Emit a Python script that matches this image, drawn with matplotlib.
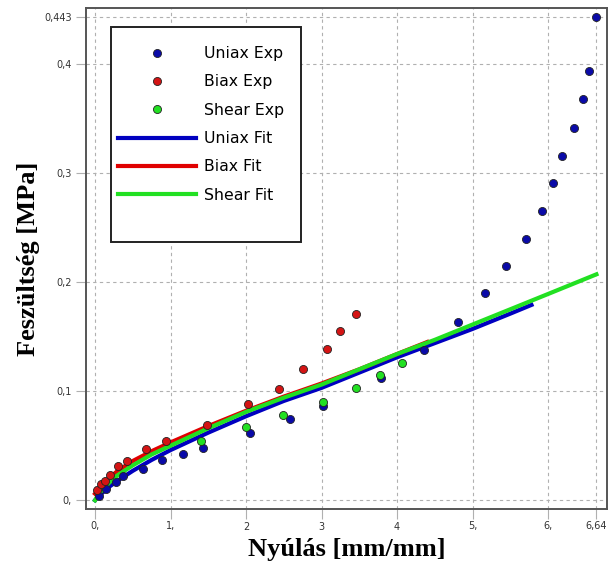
import matplotlib.pyplot as plt
from matplotlib.lines import Line2D
from matplotlib.patches import Rectangle

# experimental points (strain, stress)
uniax_x = [0.05, 0.15, 0.28, 0.37, 0.63, 0.89, 1.16, 1.43, 2.05, 2.58, 3.02, 3.79,
           4.36, 4.81, 5.17, 5.44, 5.71, 5.92, 6.07, 6.19, 6.34, 6.46, 6.54, 6.64]
uniax_y = [0.004, 0.010, 0.017, 0.022, 0.029, 0.037, 0.042, 0.048, 0.062, 0.074, 0.086, 0.112,
           0.138, 0.163, 0.190, 0.215, 0.239, 0.265, 0.291, 0.315, 0.341, 0.368, 0.393, 0.443]

biax_x = [0.02, 0.08, 0.13, 0.20, 0.31, 0.42, 0.67, 0.94, 1.48, 2.02, 2.43, 2.75, 3.07, 3.25, 3.45]
biax_y = [0.009, 0.015, 0.018, 0.023, 0.031, 0.036, 0.047, 0.054, 0.069, 0.088, 0.102, 0.120, 0.139, 0.155, 0.171]

shear_x = [1.40, 2.00, 2.49, 3.02, 3.45, 3.77, 4.06]
shear_y = [0.054, 0.067, 0.078, 0.090, 0.103, 0.115, 0.126]

# fitted curves
uniax_fit_x = [0, 0.05, 0.1, 0.2, 0.3, 0.5, 0.75, 1, 1.5, 2, 2.5, 3, 3.5, 4, 4.5, 5, 5.5, 5.78]
uniax_fit_y = [0.0, 0.004, 0.007, 0.013, 0.018, 0.027, 0.037, 0.046, 0.062, 0.077, 0.091, 0.103,
               0.117, 0.131, 0.144, 0.157, 0.171, 0.179]

biax_fit_x = [0, 0.05, 0.1, 0.2, 0.3, 0.5, 0.75, 1, 1.5, 2, 2.5, 3, 3.5, 4, 4.4]
biax_fit_y = [0.006, 0.010, 0.014, 0.021, 0.027, 0.036, 0.045, 0.053, 0.068, 0.082, 0.095, 0.107,
              0.120, 0.134, 0.145]

shear_fit_x = [0, 0.05, 0.1, 0.2, 0.3, 0.5, 0.75, 1, 1.5, 2, 2.5, 3, 3.5, 4, 4.5, 5, 5.5, 6, 6.64]
shear_fit_y = [0.0, 0.006, 0.010, 0.017, 0.023, 0.032, 0.042, 0.050, 0.066, 0.081, 0.094, 0.106,
               0.120, 0.134, 0.147, 0.161, 0.175, 0.189, 0.207]

xticks = [0, 1, 2, 3, 4, 5, 6, 6.64]
xticklabels = ["0,", "1,", "2", "3", "4", "5,", "6,", "6,64"]
yticks = [0, 0.1, 0.2, 0.3, 0.4, 0.443]
yticklabels = ["0,", "0,1", "0,2", "0,3", "0,4", "0,443"]

blue = "#0a0aa8"
red = "#d41414"
green = "#22e022"

fig = plt.figure(figsize=(6.09, 5.65), dpi=100)
ax = fig.add_axes([86 / 609, 1 - 509 / 565, (607 - 86) / 609, (509 - 8) / 565])

ax.plot(uniax_fit_x, uniax_fit_y, color="#0000c0", lw=3, zorder=2)
ax.plot(biax_fit_x, biax_fit_y, color="#e00000", lw=3, zorder=2)
ax.plot(shear_fit_x, shear_fit_y, color=green, lw=3, zorder=2)

mk = dict(linestyle="none", marker="o", ms=5.8, mec="#222222", mew=0.6, zorder=3)
ax.plot(uniax_x, uniax_y, color=blue, **mk)
ax.plot(biax_x, biax_y, color=red, **mk)
ax.plot(shear_x, shear_y, color=green, **mk)

ax.set_xlim(-0.12, 6.78)
ax.set_ylim(-0.008, 0.451)
ax.set_xticks(xticks)
ax.set_xticklabels(xticklabels)
ax.set_yticks(yticks)
ax.set_yticklabels(yticklabels)
ax.tick_params(length=7, width=0.8, color="#b0b0b0", labelsize=7, labelcolor="#333333", pad=3)
ax.tick_params(axis="x", pad=2)
ax.grid(True, color="#b0b0b0", linestyle=(0, (3, 3)), linewidth=0.8)
for s in ax.spines.values():
    s.set_color("#555555")
    s.set_linewidth(1.4)

ax.set_xlabel("Nyúlás [mm/mm]", family="Liberation Serif", weight="bold", fontsize=19)
ax.set_ylabel("Feszültség [MPa]", family="Liberation Serif", weight="bold", fontsize=19)
ax.xaxis.set_label_coords(0.5, -0.058)
ax.yaxis.set_label_coords(-0.088, 0.5)

# legend box drawn by hand, entries via legend without frame
ax.add_patch(Rectangle((25 / 521, 267 / 501), 190 / 521, 215 / 501, transform=ax.transAxes,
                       facecolor="white", edgecolor="#222222", lw=1.4, zorder=4))
handles = [
    Line2D([], [], color=blue, **mk),
    Line2D([], [], color=red, **mk),
    Line2D([], [], color=green, **mk),
    Line2D([], [], color="#0000c0", lw=3),
    Line2D([], [], color="#e00000", lw=3),
    Line2D([], [], color=green, lw=3),
]
labels = ["Uniax Exp", "Biax Exp", "Shear Exp", "Uniax Fit", "Biax Fit", "Shear Fit"]
leg = ax.legend(handles, labels, loc="upper left", bbox_to_anchor=(32 / 521, 1 - 38 / 501),
                frameon=False, handlelength=5.0, handletextpad=0.45,
                labelspacing=0.85, borderpad=0, borderaxespad=0,
                prop={"family": "DejaVu Sans", "size": 11.3})
leg.set_zorder(5)

fig.savefig("out.png", dpi=100)
